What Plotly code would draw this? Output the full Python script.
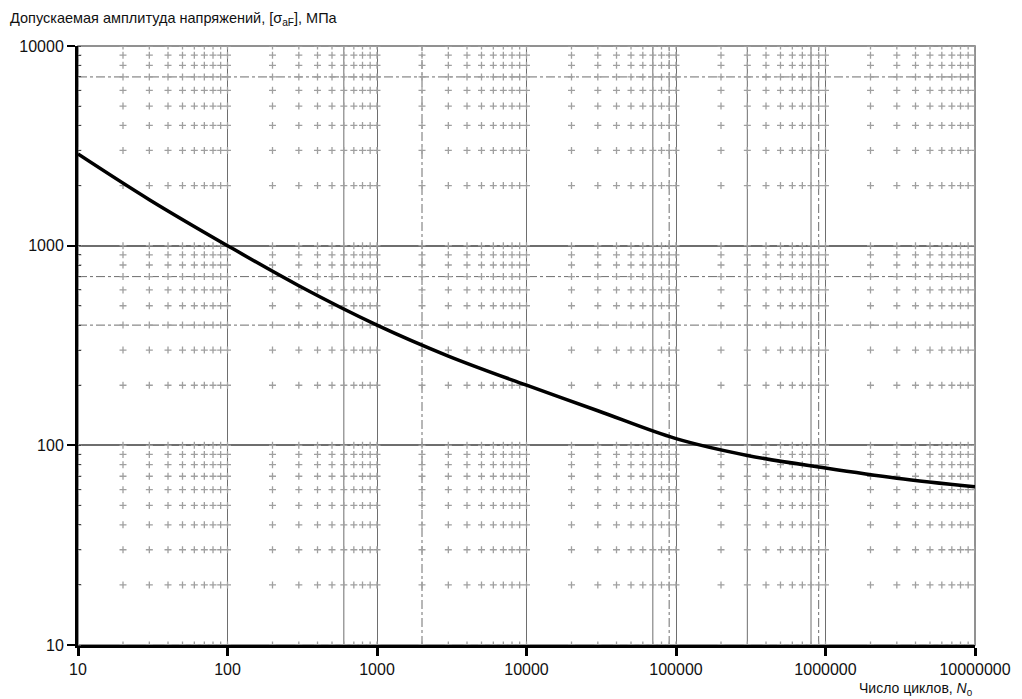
import numpy as np
import plotly.graph_objects as go

# Allowable stress amplitude vs number of cycles
cycles = [10, 30, 100, 300, 1000, 3000, 10000, 30000, 100000, 300000, 1000000, 3000000, 10000000]
stress = [2880, 1700, 1000, 630, 400, 280, 200, 149, 108, 89, 77, 68.5, 62]

x_ticks = [10, 100, 1000, 10000, 100000, 1000000, 10000000]
y_ticks = [10, 100, 1000, 10000]

# auxiliary reference lines
v_solid = [600, 70000, 300000, 800000]
v_dashdot = [2000, 90000, 900000]
h_dashdot = [7000, 700, 400]

FONT = "Liberation Sans, Arial, sans-serif"
GRID = "#6e6e6e"

fig = go.Figure()

# grid crosses at minor intersections
def minor_values(lo_exp, hi_exp):
    vals = []
    for e in range(lo_exp, hi_exp):
        for m in range(1, 10):
            vals.append(m * 10 ** e)
    vals.append(10 ** hi_exp)
    return vals

xs_m = minor_values(1, 7)
ys_m = minor_values(1, 4)
gx, gy = np.meshgrid(xs_m, ys_m)
fig.add_trace(go.Scatter(
    x=gx.ravel(), y=gy.ravel(), mode="markers",
    marker=dict(symbol="cross-thin", size=5, line=dict(width=1.3, color="#a0a0a0")),
    hoverinfo="skip", showlegend=False,
))

for v in v_solid:
    fig.add_shape(type="line", xref="x", yref="paper", x0=v, x1=v, y0=0, y1=1,
                  line=dict(color=GRID, width=1), layer="below")
for v in v_dashdot:
    fig.add_shape(type="line", xref="x", yref="paper", x0=v, x1=v, y0=0, y1=1,
                  line=dict(color=GRID, width=1, dash="dashdot"), layer="below")
for h in h_dashdot:
    fig.add_shape(type="line", xref="paper", yref="y", x0=0, x1=1, y0=h, y1=h,
                  line=dict(color=GRID, width=1, dash="dashdot"), layer="below")

# top and right frame
fig.add_shape(type="rect", xref="paper", yref="paper", x0=0, x1=1, y0=0, y1=1,
              line=dict(color=GRID, width=1.5), layer="below")

fig.add_trace(go.Scatter(
    x=cycles, y=stress, mode="lines",
    line=dict(color="black", width=3.5, shape="spline", smoothing=1.0),
    showlegend=False,
))

fig.update_xaxes(
    type="log", range=[1, 7],
    tickvals=x_ticks, ticktext=[str(v) for v in x_ticks],
    showgrid=True, gridcolor=GRID, gridwidth=1,
    showline=True, linecolor="black", linewidth=3,
    ticks="outside", ticklen=8, tickwidth=3, tickcolor="black",
    tickfont=dict(family=FONT, size=16, color="#111"),
    zeroline=False,
)
fig.update_yaxes(
    type="log", range=[1, 4],
    tickvals=y_ticks, ticktext=[str(v) for v in y_ticks],
    showgrid=True, gridcolor=GRID, gridwidth=1.5,
    showline=True, linecolor="black", linewidth=3,
    ticks="outside", ticklen=8, tickwidth=2, tickcolor="black",
    tickfont=dict(family=FONT, size=16, color="#111"),
    minor=dict(ticks="inside", ticklen=3, tickcolor="#444", tickwidth=1,
               dtick="D1", showgrid=False),
    zeroline=False,
)

fig.add_annotation(
    xref="paper", yref="paper", x=-0.078, y=1.045, xanchor="left", yanchor="middle",
    text="Допускаемая амплитуда напряжений, [σ<sub>aF</sub>], МПа",
    showarrow=False, font=dict(family=FONT, size=14.5, color="#111"),
)
fig.add_annotation(
    xref="paper", yref="paper", x=1.0, y=-0.074, xanchor="right", yanchor="middle",
    text="Число циклов, <i>N</i><sub>0</sub>",
    showarrow=False, font=dict(family=FONT, size=14, color="#111"),
)

fig.update_layout(
    width=1022, height=699,
    margin=dict(l=78, r=47, t=46, b=54),
    paper_bgcolor="white", plot_bgcolor="white",
)

fig.write_html("out.html")
